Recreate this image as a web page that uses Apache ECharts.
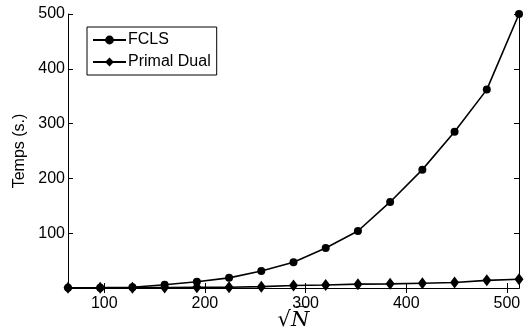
<!DOCTYPE html>
<html>
<head>
<meta charset="utf-8">
<script src="https://cdn.jsdelivr.net/npm/echarts@6/dist/echarts.min.js"></script>
<style>
  html, body { margin: 0; padding: 0; background: #fff; }
  #chart { width: 524px; height: 332px; }
</style>
</head>
<body>
<div id="chart"></div>
<script>
// sqrt(N) sample sizes
const sqrtN = [64, 96, 128, 160, 192, 224, 256, 288, 320, 352, 384, 416, 448, 480, 512];
// run times in seconds
const fcls = [0.3, 0.6, 1.5, 6, 11.5, 18.5, 31, 47, 73, 104, 157, 216, 285, 362, 500];
const primalDual = [0.3, 0.4, 0.6, 0.9, 1.2, 1.5, 2.5, 4.5, 5.5, 7, 7.6, 8.8, 10, 14, 16];
const xTicks = [100, 200, 300, 400, 500];
const yTicks = [100, 200, 300, 400, 500];

const font = "Liberation Sans, Arial, sans-serif";
const chart = echarts.init(document.getElementById("chart"));

const pairs = (ys) => sqrtN.map((x, i) => [x, ys[i]]);

const hiddenAxis = {
    axisLine: { show: true, lineStyle: { color: "#000", width: 1 } },
    axisLabel: { show: false },
    splitLine: { show: false },
};

const option = {
    backgroundColor: "#fff",
    animation: false,
    grid: { left: 68, top: 14, right: 5, bottom: 44, outerBoundsMode: "none" },
    legend: {
        orient: "vertical",
        left: 87,
        top: 27,
        padding: [5, 6, 5, 5],
        itemGap: 6,
        itemWidth: 33,
        itemHeight: 11,
        backgroundColor: "#fff",
        borderColor: "#000",
        borderWidth: 1,
        borderRadius: 0,
        textStyle: { color: "#000", fontSize: 16, fontFamily: font, padding: [0, 0, 0, -3] },
        data: ["FCLS", "Primal Dual"],
    },
    xAxis: [
        {
            type: "value",
            min: 64,
            max: 512,
            name: "√N\u0305",
            nameLocation: "middle",
            nameGap: 22,
            nameMoveOverlap: false,
            nameTextStyle: { color: "#000", fontSize: 21, fontFamily: "DejaVu Serif, serif", fontStyle: "italic" },
            axisLine: { show: true, onZero: false, lineStyle: { color: "#000", width: 1 } },
            axisTick: { show: true, inside: true, length: 5, customValues: xTicks, lineStyle: { color: "#000" } },
            axisLabel: { color: "#000", fontSize: 16, fontFamily: font, margin: 8, customValues: xTicks },
            splitLine: { show: false },
        },
        {
            type: "value",
            position: "top",
            min: 64,
            max: 512,
            ...hiddenAxis,
            axisTick: { show: true, inside: true, length: 5, customValues: xTicks, lineStyle: { color: "#000" } },
        },
    ],
    yAxis: [
        {
            type: "value",
            min: 0,
            max: 500,
            interval: 100,
            name: "Temps (s.)",
            nameLocation: "middle",
            nameGap: 40,
            nameRotate: 90,
            nameTextStyle: { color: "#000", fontSize: 16, fontFamily: font },
            axisLine: { show: true, onZero: false, lineStyle: { color: "#000", width: 1 } },
            axisTick: { show: true, inside: true, length: 5, customValues: yTicks, lineStyle: { color: "#000" } },
            axisLabel: { color: "#000", fontSize: 16, fontFamily: font, margin: 3, customValues: yTicks },
            splitLine: { show: false },
        },
        {
            type: "value",
            position: "right",
            min: 0,
            max: 500,
            interval: 100,
            ...hiddenAxis,
            axisTick: { show: true, inside: true, length: 5, customValues: yTicks, lineStyle: { color: "#000" } },
        },
    ],
    series: [
        {
            name: "FCLS",
            type: "line",
            data: pairs(fcls),
            symbol: "circle",
            symbolSize: 8,
            showAllSymbol: true,
            lineStyle: { color: "#000", width: 1.6 },
            itemStyle: { color: "#000" },
            z: 3,
        },
        {
            name: "Primal Dual",
            type: "line",
            data: pairs(primalDual),
            symbol: "diamond",
            symbolSize: [9, 12],
            showAllSymbol: true,
            lineStyle: { color: "#000", width: 1.6 },
            itemStyle: { color: "#000" },
            z: 4,
        },
    ],
};

chart.setOption(option);
</script>
</body>
</html>
